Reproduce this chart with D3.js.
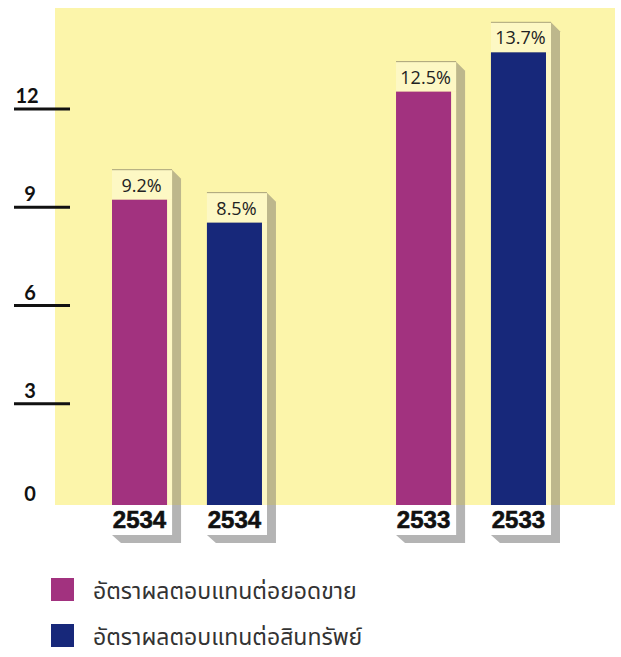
<!DOCTYPE html>
<html>
<head>
<meta charset="utf-8">
<title></title>
<style type="text/css">
  body { margin: 0; background: #fff; }
  svg { display: block; }
</style>
<script src="https://cdn.jsdelivr.net/npm/d3@7"></script>
</head>
<body>
<svg height="657" width="621"></svg>
<script>
// data
var years = ["2534", "2533"];
var seriesNames = ["อัตราผลตอบแทนต่อยอดขาย", "อัตราผลตอบแทนต่อสินทรัพย์"];
var salesReturn = [9.2, 12.5];
var assetReturn = [8.5, 13.7];
var yTicks = [0, 3, 6, 9, 12];
var colors = ["#a2327f", "#17287a"];

var svg = d3.select("svg");

var panel = { left: 55, right: 615, top: 8, bottom: 505 };

var y = d3.scaleLinear().domain([0, 12]).range([501, 108]);
var x = d3.scaleBand().domain(years).range([112, 546]).paddingInner(0.472);
var xs = d3.scaleBand().domain([0, 1]).range([0, x.bandwidth()]).paddingInner(0.42);

// yellow panel
svg.append("rect")
  .attr("x", panel.left).attr("y", panel.top)
  .attr("width", panel.right - panel.left)
  .attr("height", panel.bottom - panel.top)
  .attr("fill", "#fcf5aa");

// axis ticks
var tg = svg.append("g");
tg.selectAll("line")
  .data(yTicks.filter(function(d){ return d > 0; }))
  .enter().append("line")
  .attr("x1", 14).attr("x2", 70)
  .attr("y1", function(d){ return y(d) + 1; })
  .attr("y2", function(d){ return y(d) + 1; })
  .attr("stroke", "#111").attr("stroke-width", 3);
tg.selectAll("text")
  .data(yTicks)
  .enter().append("text")
  .attr("x", function(d){ return d >= 10 ? 27 : 30; })
  .attr("y", function(d){ return d === 0 ? y(d) : y(d) - 5; })
  .attr("text-anchor", "middle")
  .style("font-family", "Lato, 'DejaVu Sans', sans-serif")
  .style("font-weight", "bold")
  .style("font-size", "20px")
  .attr("fill", "#111")
  .text(function(d){ return d; });

// bars
var bars = [];
years.forEach(function(yr, i){
  bars.push({ year: yr, s: 0, v: salesReturn[i] });
  bars.push({ year: yr, s: 1, v: assetReturn[i] });
});

var d = 9;
var bw = xs.bandwidth();
var gs = svg.selectAll(".bar")
  .data(bars)
  .enter().append("g")
  .attr("class", "bar")
  .attr("transform", function(b){ return "translate(" + (x(b.year) + xs(b.s)) + ",0)"; });

// lower label box shadow
gs.append("polygon")
  .attr("points", function(){
    var x1 = bw + 5;
    return [[x1, panel.bottom], [x1 + d, panel.bottom], [x1 + d, 543],
            [d, 543], [0, 535], [x1, 535]].join(" ");
  })
  .attr("fill", "#b4b4b4");
gs.append("rect")
  .attr("x", 0).attr("y", panel.bottom)
  .attr("width", bw + 5).attr("height", 30)
  .attr("fill", "#fff");
gs.append("text")
  .attr("x", bw / 2).attr("y", 528)
  .attr("text-anchor", "middle")
  .style("font-family", "'Liberation Sans', Arial, sans-serif")
  .style("font-weight", "bold")
  .style("font-size", "24px")
  .attr("fill", "#111")
  .attr("stroke", "#111").attr("stroke-width", 0.6)
  .text(function(b){ return b.year; });

// side face
gs.append("polygon")
  .attr("points", function(b){
    var t = y(b.v) - 30, x1 = bw + 5;
    return [[x1, t], [x1 + d, t + d], [x1 + d, panel.bottom], [x1, panel.bottom]].join(" ");
  })
  .attr("fill", "#bdb78c");
// lid
gs.append("rect")
  .attr("x", 0).attr("y", function(b){ return y(b.v) - 30; })
  .attr("width", bw + 5).attr("height", 30)
  .attr("fill", "#fdf8c4");
gs.append("line")
  .attr("x1", 0).attr("x2", bw + 5)
  .attr("y1", function(b){ return y(b.v) - 30; })
  .attr("y2", function(b){ return y(b.v) - 30; })
  .attr("stroke", "#a8a27a").attr("stroke-width", 1);
// strip right of the bar
gs.append("rect")
  .attr("x", bw).attr("y", function(b){ return y(b.v); })
  .attr("width", 5).attr("height", function(b){ return panel.bottom - y(b.v); })
  .attr("fill", "#fdf8c4");
// front
gs.append("rect")
  .attr("x", 0).attr("y", function(b){ return y(b.v); })
  .attr("width", bw).attr("height", function(b){ return panel.bottom - y(b.v); })
  .attr("fill", function(b){ return colors[b.s]; });
gs.append("text")
  .attr("x", bw / 2 + 2).attr("y", function(b){ return y(b.v) - 8; })
  .attr("text-anchor", "middle")
  .style("font-family", "'Open Sans', sans-serif")
  .style("font-size", "18px")
  .attr("fill", "#222")
  .text(function(b){ return b.v.toFixed(1) + "%"; });

// legend
var lg = svg.selectAll(".leg")
  .data(seriesNames)
  .enter().append("g")
  .attr("class", "leg")
  .attr("transform", function(n, i){ return "translate(51," + (578 + i * 46) + ")"; });
lg.append("rect")
  .attr("width", 23).attr("height", 23)
  .attr("fill", function(n, i){ return colors[i]; });
lg.append("text")
  .attr("x", 42).attr("y", 21)
  .style("font-family", "'Noto Sans Thai', 'Noto Sans', sans-serif")
  .style("font-size", "23px")
  .attr("fill", "#333")
  .text(function(n){ return n; });
</script>
</body>
</html>
